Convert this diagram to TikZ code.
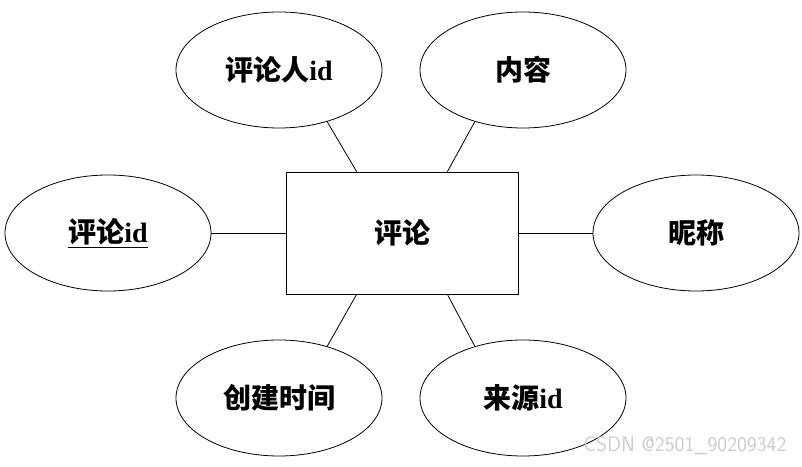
\documentclass[tikz,border=0pt]{standalone}
\usepackage{fontspec}
\setmainfont{Liberation Serif}
\newfontfamily\cjk{Noto Sans CJK SC}
\usetikzlibrary{shapes.geometric,positioning,calc}
\tikzset{
  attr/.style={draw, thick, ellipse, minimum width=206pt, minimum height=116pt, inner sep=0pt, font=\fontsize{28}{30}\selectfont\bfseries},
  ent/.style={draw, thick, rectangle, minimum width=232pt, minimum height=122pt, font=\fontsize{28}{30}\selectfont\bfseries},
  link/.style={thick}
}
\begin{document}
\begin{tikzpicture}[x=1pt, y=1pt]
\useasboundingbox (0,0) rectangle (802,466);
\node[ent] (pl) at (402,233) {{\cjk 评论}};
\node[attr] (plrid) at (279,396) {{\cjk 评论人}id};
\node[attr] (nr) at (523,396) {{\cjk 内容}};
\node[attr] (plid) at (108,233) {\underline{{\cjk 评论}id}};
\node[attr] (nc) at (696,233) {{\cjk 昵称}};
\node[attr] (cjsj) at (279,68) {{\cjk 创建时间}};
\node[attr] (lyid) at (523,68) {{\cjk 来源}id};
\draw[link] (plrid.-47) -- ([xshift=71pt]pl.north west);
\draw[link] (nr.-133) -- ([xshift=-71pt]pl.north east);
\draw[link] (plid.east) -- (pl.west);
\draw[link] (nc.west) -- (pl.east);
\draw[link] (cjsj.47) -- ([xshift=71pt]pl.south west);
\draw[link] (lyid.133) -- ([xshift=-71pt]pl.south east);
\node[text=gray!40, font=\sffamily\fontsize{21}{22}\selectfont, anchor=south east] (wm) at (790,8) {CSDN @2501\_90209342};
\end{tikzpicture}
\end{document}
